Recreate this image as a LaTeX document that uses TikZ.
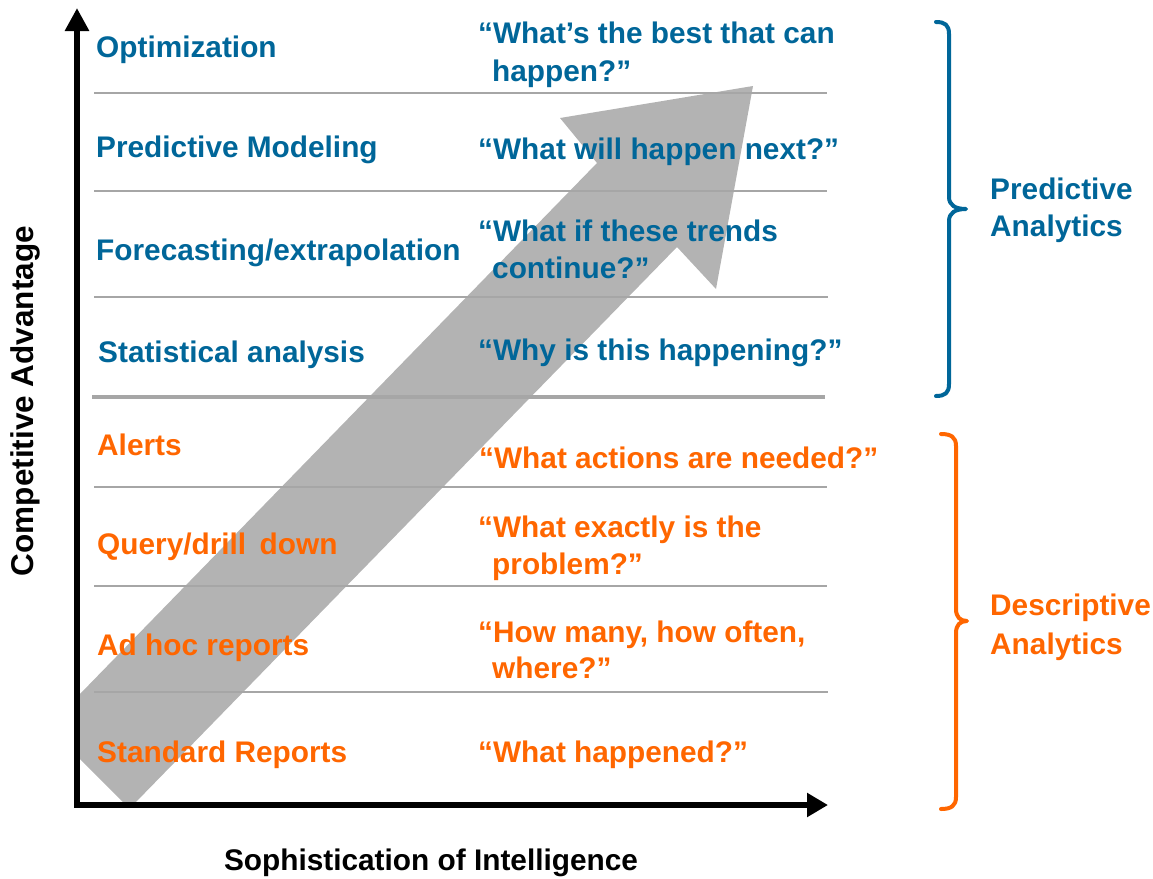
\documentclass[tikz,border=0pt]{standalone}
\usepackage{fontspec}
\setmainfont{Liberation Sans}
\usetikzlibrary{arrows.meta}
\definecolor{pblue}{RGB}{0,102,153}
\definecolor{dorange}{RGB}{255,102,0}
\definecolor{sepgray}{RGB}{166,166,166}
\definecolor{arrgray}{RGB}{179,179,179}
\begin{document}
\begin{tikzpicture}[x=1pt,y=-1pt,
  lbl/.style={anchor=base west, inner sep=0pt, font=\fontsize{29.8}{36}\selectfont\bfseries},
  bt/.style={lbl, text=pblue},
  ot/.style={lbl, text=dorange},
  axlbl/.style={anchor=base, inner sep=0pt, font=\fontsize{29.8}{36}\selectfont\bfseries, text=black},
  sepline/.style={draw=sepgray, line width=2pt},
  bigsep/.style={draw=sepgray, line width=4.5pt},
  brace/.style={line width=4pt, line cap=round, line join=round},
  axis/.style={line width=6pt, line join=miter,
    {Triangle[length=23pt,width=23pt]}-{Triangle[length=21pt,width=23pt]}}]
\useasboundingbox (0,0) rectangle (1153,878);

% big gray arrow
\fill[arrgray] (79,695) -- (597,163) -- (560,118) -- (753,86) -- (716,289)
  -- (677,247) -- (135,803) -- (124,803) -- (79,758) -- cycle;

% separators
\draw[sepline] (94,92.7) -- (827,92.7);
\draw[sepline] (94,190.7) -- (827,190.7);
\draw[sepline] (94,296.7) -- (828,296.7);
\draw[bigsep] (92,397) -- (825,397);
\draw[sepline] (94,487) -- (827,487);
\draw[sepline] (94,586) -- (827,586);
\draw[sepline] (94,692) -- (828,692);

% axes
\coordinate (ytop) at (77,8);
\coordinate (orig) at (77,805);
\coordinate (xend) at (828,805);
\draw[axis] (ytop) -- (orig) -- (xend);

% left labels
\node[bt] (opt) at (96,57) {Optimization};
\node[bt] (pm) at (96,157) {Predictive Modeling};
\node[bt] (fc) at (96,260) {Forecasting/extrapolation};
\node[bt] (sa) at (98,362) {Statistical analysis};
\node[ot] (al) at (97,455) {Alerts};
\node[ot] (qd) at (97,554) {Query/drill\hspace{0.45em}down};
\node[ot] (ah) at (97,655) {Ad hoc reports};
\node[ot] (sr) at (97,762) {Standard Reports};

% questions
\node[bt] (q1a) at (478,43.5) {“What’s the best that can};
\node[bt] (q1b) at (492,81) {happen?”};
\node[bt] (q2) at (478,159) {“What will happen next?”};
\node[bt] (q3a) at (478,241) {“What if these trends};
\node[bt] (q3b) at (492,278) {continue?”};
\node[bt] (q4) at (478,360) {“Why is this happening?”};
\node[ot] (q5) at (479,468) {“What actions are needed?”};
\node[ot] (q6a) at (478,537) {“What exactly is the};
\node[ot] (q6b) at (492,574) {problem?”};
\node[ot] (q7a) at (478,642) {“How many, how often,};
\node[ot] (q7b) at (492,678) {where?”};
\node[ot] (q8) at (478,762) {“What happened?”};

% braces
\draw[brace, pblue] (936,22) .. controls (945,22) and (949,25) .. (949,34)
  -- (949,197) .. controls (949,205) and (955,209) .. (966,209)
  .. controls (955,209) and (949,213) .. (949,221)
  -- (949,384) .. controls (949,393) and (945,396) .. (936,396);
\draw[brace, dorange] (941,434) .. controls (951,434) and (956,437) .. (956,446)
  -- (956,609) .. controls (956,617) and (960,621) .. (967,621)
  .. controls (960,621) and (956,625) .. (956,633)
  -- (956,797) .. controls (956,806) and (951,809) .. (941,809);

\node[bt] (pa1) at (990,199) {Predictive};
\node[bt] (pa2) at (990,236) {Analytics};
\node[ot] (da1) at (990,615) {Descriptive};
\node[ot] (da2) at (990,654) {Analytics};

% axis labels
\node[axlbl] (xl) at (431,870) {Sophistication of Intelligence};
\node[axlbl, rotate=90, font=\fontsize{31.5}{36}\selectfont\bfseries] (yl) at (33,401) {Competitive Advantage};
\end{tikzpicture}
\end{document}
